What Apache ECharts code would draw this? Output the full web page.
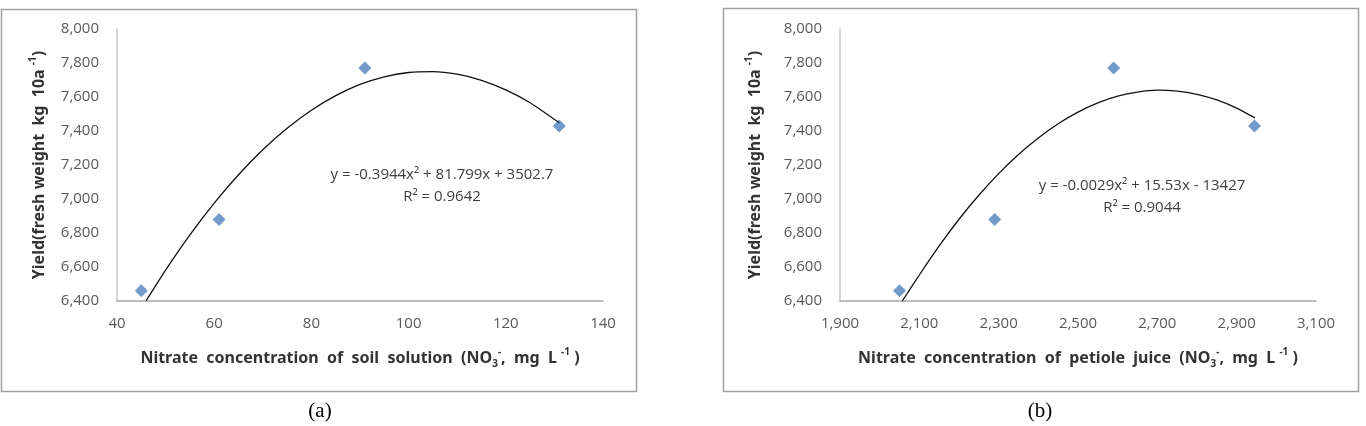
<!DOCTYPE html>
<html>
<head>
<meta charset="utf-8">
<script src="https://cdn.jsdelivr.net/npm/echarts@6/dist/echarts.min.js"></script>
<style>
  html, body { margin: 0; padding: 0; background: #fff; }
  #chart { width: 1366px; height: 426px; }
</style>
</head>
<body>
<div id="chart"></div>
<script>
// measured points (same yields in both panels)
const soilNitrate = [45, 61, 91, 131];
const petioleNitrate = [2050, 2290, 2590, 2945];
const yieldValues = [6460, 6880, 7770, 7430];

// trend curves
const soilFitX = [46, 50, 55, 60, 65, 70, 75, 80, 85, 90, 95, 100, 105, 110, 115, 120, 125, 131];
const soilFitY = [6402, 6582, 6789, 6976, 7143, 7290, 7416, 7522, 7608, 7674, 7719, 7744, 7749, 7734, 7698, 7642, 7566, 7448];
const petioleFitX = [2057, 2100, 2150, 2200, 2250, 2300, 2350, 2400, 2450, 2500, 2550, 2600, 2650, 2700, 2750, 2800, 2850, 2900, 2946];
const petioleFitY = [6400, 6553, 6724, 6881, 7022, 7149, 7262, 7359, 7443, 7511, 7565, 7605, 7629, 7640, 7635, 7616, 7583, 7535, 7477];

const soilEquation = ['y = -0.3944x² + 81.799x + 3502.7', 'R² = 0.9642'];
const petioleEquation = ['y = -0.0029x² + 15.53x - 13427', 'R² = 0.9044'];

const zip = (xs, ys) => xs.map((x, i) => [x, ys[i]]);

const labelFont = { color: '#595959', fontFamily: 'Open Sans', fontSize: 15 };
const titleRich = {
  t: { fontFamily: 'Noto Sans', fontWeight: 'bold', fontSize: 16, color: '#333', lineHeight: 22 },
  sub: { fontFamily: 'Noto Sans', fontWeight: 'bold', fontSize: 10, color: '#333', lineHeight: 10, verticalAlign: 'bottom' },
  sup: { fontFamily: 'Noto Sans', fontWeight: 'bold', fontSize: 10, color: '#333', lineHeight: 10, verticalAlign: 'top' }
};

function xAxisOf(idx, min, max, step, name) {
  return {
    type: 'value', gridIndex: idx, min: min, max: max, interval: step,
    name: name, nameLocation: 'middle', nameGap: 46,
    nameTextStyle: { rich: titleRich },
    axisLine: { lineStyle: { color: '#a6a6a6', width: 1.5 } },
    axisTick: { show: false },
    splitLine: { show: false },
    axisLabel: Object.assign({ margin: 15, formatter: v => v.toLocaleString('en-US') }, labelFont)
  };
}

function yAxisOf(idx, gap) {
  return {
    type: 'value', gridIndex: idx, min: 6400, max: 8000, interval: 200,
    name: '{t|Yield(fresh weight  kg  10a }{sup|-1}{t|)}',
    nameLocation: 'middle', nameGap: gap, nameRotate: 90,
    nameTextStyle: { rich: titleRich },
    axisLine: { show: true, lineStyle: { color: '#c8c8c8', width: 1.5 } },
    axisTick: { show: false },
    splitLine: { show: false },
    axisLabel: Object.assign({ margin: 18, formatter: v => v.toLocaleString('en-US') }, labelFont)
  };
}

function equationText(lines, cx, y) {
  return lines.map((s, i) => ({
    type: 'text', x: cx, y: y + i * 22,
    style: { text: s, fill: '#404040', font: '15px "Open Sans"', align: 'center', verticalAlign: 'middle' }
  }));
}

const chart = echarts.init(document.getElementById('chart'), null, { renderer: 'canvas' });
chart.setOption({
  animation: false,
  backgroundColor: '#fff',
  grid: [
    { left: 117, top: 29, width: 486, height: 272 },
    { left: 840, top: 29, width: 476, height: 272 }
  ],
  xAxis: [
    xAxisOf(0, 40, 140, 20, '{t|Nitrate  concentration  of  soil  solution  (NO}{sub|3}{sup|-}{t|,  mg  L }{sup|-1}{t| )}'),
    xAxisOf(1, 1900, 3100, 200, '{t|Nitrate  concentration  of  petiole  juice  (NO}{sub|3}{sup|-}{t|,  mg  L }{sup|-1}{t| )}')
  ],
  yAxis: [yAxisOf(0, 67), yAxisOf(1, 74)],
  series: [
    {
      type: 'scatter', xAxisIndex: 0, yAxisIndex: 0, symbol: 'diamond', symbolSize: 13,
      itemStyle: { color: '#4f81bd' }, data: zip(soilNitrate, yieldValues)
    },
    {
      type: 'line', xAxisIndex: 0, yAxisIndex: 0, smooth: 0.2, showSymbol: false,
      lineStyle: { color: '#111', width: 1.3 }, data: zip(soilFitX, soilFitY)
    },
    {
      type: 'scatter', xAxisIndex: 1, yAxisIndex: 1, symbol: 'diamond', symbolSize: 13,
      itemStyle: { color: '#4f81bd' }, data: zip(petioleNitrate, yieldValues)
    },
    {
      type: 'line', xAxisIndex: 1, yAxisIndex: 1, smooth: 0.2, showSymbol: false,
      lineStyle: { color: '#111', width: 1.3 }, data: zip(petioleFitX, petioleFitY)
    }
  ],
  graphic: [
    { type: 'rect', shape: { x: 1.5, y: 9.5, width: 635, height: 382 }, style: { fill: 'none', stroke: '#a0a0a0', lineWidth: 1.5 }, z: -1 },
    { type: 'rect', shape: { x: 723.5, y: 8.5, width: 635, height: 383 }, style: { fill: 'none', stroke: '#a0a0a0', lineWidth: 1.5 }, z: -1 },
    { type: 'text', x: 320, y: 411, style: { text: '(a)', fill: '#000', font: '21px "Liberation Serif"', align: 'center', verticalAlign: 'middle' } },
    { type: 'text', x: 1040, y: 411, style: { text: '(b)', fill: '#000', font: '21px "Liberation Serif"', align: 'center', verticalAlign: 'middle' } }
  ].concat(equationText(soilEquation, 442, 175), equationText(petioleEquation, 1142, 186))
});
</script>
</body>
</html>
